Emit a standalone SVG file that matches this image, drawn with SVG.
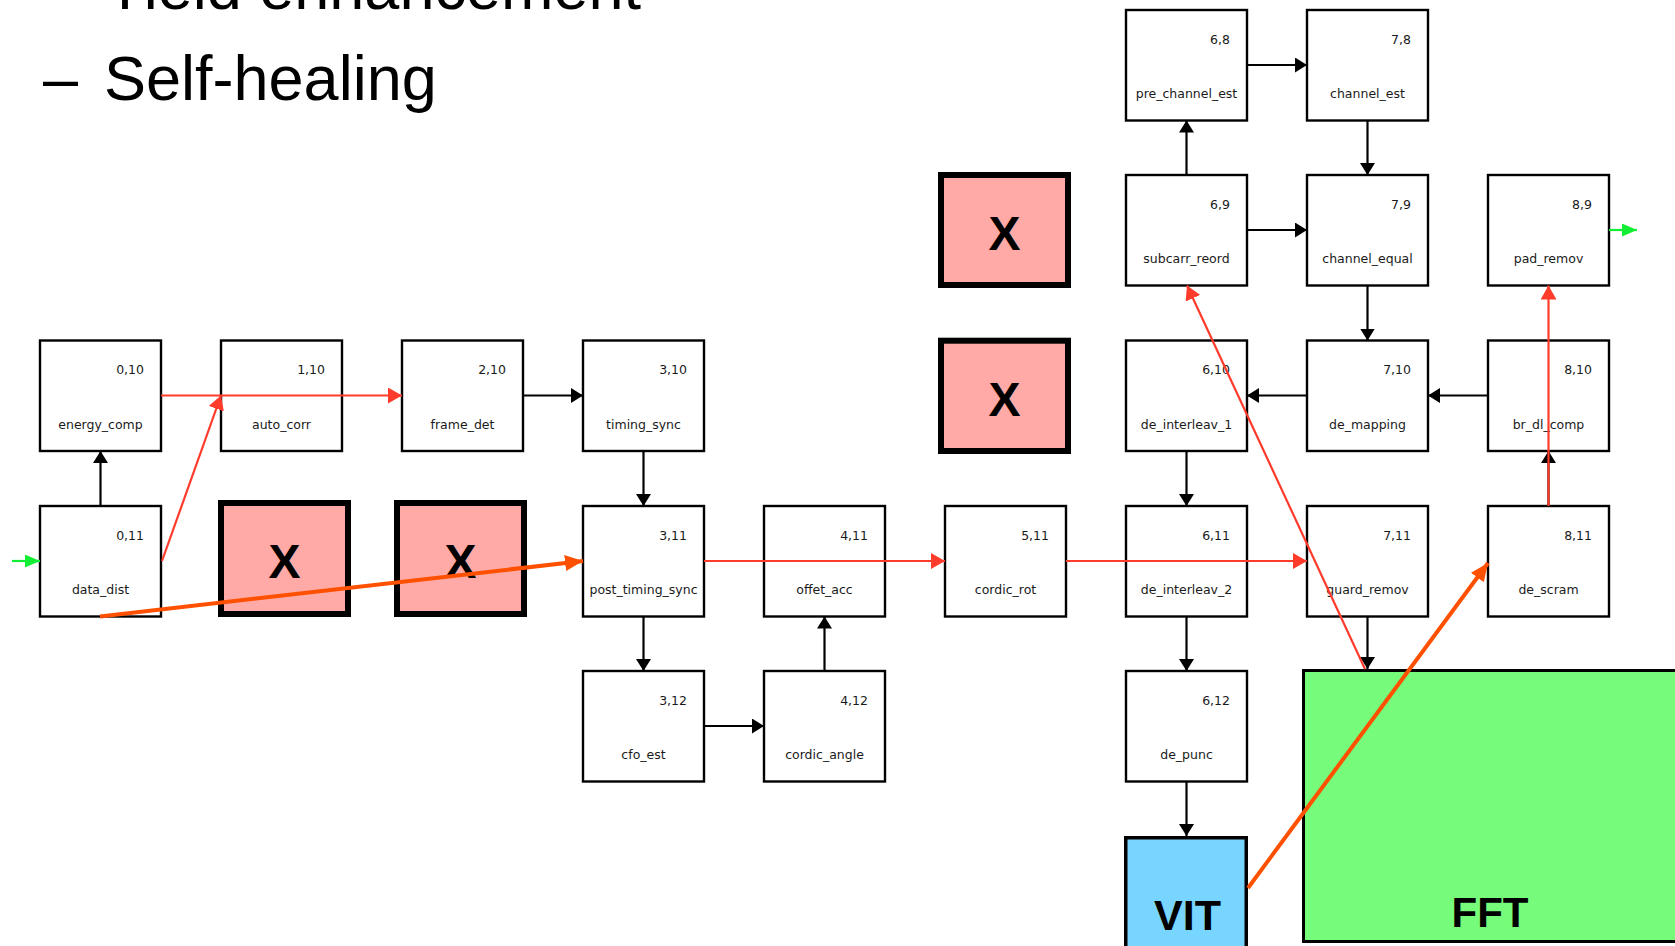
<svg xmlns="http://www.w3.org/2000/svg" width="1675" height="946" viewBox="0 0 1675 946">
<style>
.box{fill:#fff;stroke:#000;stroke-width:2.4}
.num{font-family:"DejaVu Sans",sans-serif;font-size:12.5px;fill:#1a1a1a;text-anchor:end}
.lbl{font-family:"DejaVu Sans",sans-serif;font-size:12.5px;fill:#1a1a1a;text-anchor:middle}
.xbox{fill:#ffaaa6;stroke:#000;stroke-width:6}
.big{font-family:"Liberation Sans",Arial,sans-serif;font-weight:bold;fill:#000;text-anchor:middle}
.title{font-family:"Liberation Sans",Arial,sans-serif;font-size:63px;fill:#000}
.blk{stroke:#000;stroke-width:2.2;fill:none;marker-end:url(#ab)}
.red{stroke:#ff3b2b;stroke-width:2.2;fill:none;marker-end:url(#ar)}
.org{stroke:#ff5000;stroke-width:4;fill:none;marker-end:url(#ao)}
.grn{stroke:#11ee33;stroke-width:2.2;fill:none;marker-end:url(#ag)}
</style>
<defs>
<marker id="ab" markerUnits="userSpaceOnUse" markerWidth="12" markerHeight="15" refX="12" refY="7.5" orient="auto"><path d="M0,0 L12,7.5 L0,15 z" fill="#000"/></marker>
<marker id="ar" markerUnits="userSpaceOnUse" markerWidth="14" markerHeight="16" refX="14" refY="8" orient="auto"><path d="M0,0 L14,8 L0,16 z" fill="#ff3b2b"/></marker>
<marker id="ao" markerUnits="userSpaceOnUse" markerWidth="18" markerHeight="16" refX="18" refY="8" orient="auto"><path d="M0,0 L18,8 L0,16 z" fill="#ff5000"/></marker>
<marker id="ag" markerUnits="userSpaceOnUse" markerWidth="15" markerHeight="13" refX="15" refY="6.5" orient="auto"><path d="M0,0 L15,6.5 L0,13 z" fill="#11ee33"/></marker>
</defs>
<rect width="1675" height="946" fill="#fff"/>
<g id="title">
<text class="title" x="104" y="9">Yield enhancement</text>
<text class="title" x="43" y="100">–</text>
<text class="title" x="104" y="100">Self-healing</text>
</g>
<g id="n0_10"><rect class="box" x="40" y="340.5" width="121" height="110.5"/><text class="num" x="144" y="374">0,10</text><text class="lbl" x="100.5" y="428.5">energy_comp</text></g>
<g id="n1_10"><rect class="box" x="221" y="340.5" width="121" height="110.5"/><text class="num" x="325" y="374">1,10</text><text class="lbl" x="281.5" y="428.5">auto_corr</text></g>
<g id="n2_10"><rect class="box" x="402" y="340.5" width="121" height="110.5"/><text class="num" x="506" y="374">2,10</text><text class="lbl" x="462.5" y="428.5">frame_det</text></g>
<g id="n3_10"><rect class="box" x="583" y="340.5" width="121" height="110.5"/><text class="num" x="687" y="374">3,10</text><text class="lbl" x="643.5" y="428.5">timing_sync</text></g>
<g id="n0_11"><rect class="box" x="40" y="506" width="121" height="110.5"/><text class="num" x="144" y="539.5">0,11</text><text class="lbl" x="100.5" y="594">data_dist</text></g>
<g id="n3_11"><rect class="box" x="583" y="506" width="121" height="110.5"/><text class="num" x="687" y="539.5">3,11</text><text class="lbl" x="643.5" y="594">post_timing_sync</text></g>
<g id="n4_11"><rect class="box" x="764" y="506" width="121" height="110.5"/><text class="num" x="868" y="539.5">4,11</text><text class="lbl" x="824.5" y="594">offet_acc</text></g>
<g id="n5_11"><rect class="box" x="945" y="506" width="121" height="110.5"/><text class="num" x="1049" y="539.5">5,11</text><text class="lbl" x="1005.5" y="594">cordic_rot</text></g>
<g id="n3_12"><rect class="box" x="583" y="671" width="121" height="110.5"/><text class="num" x="687" y="704.5">3,12</text><text class="lbl" x="643.5" y="759">cfo_est</text></g>
<g id="n4_12"><rect class="box" x="764" y="671" width="121" height="110.5"/><text class="num" x="868" y="704.5">4,12</text><text class="lbl" x="824.5" y="759">cordic_angle</text></g>
<g id="n6_8"><rect class="box" x="1126" y="10" width="121" height="110.5"/><text class="num" x="1230" y="43.5">6,8</text><text class="lbl" x="1186.5" y="98">pre_channel_est</text></g>
<g id="n7_8"><rect class="box" x="1307" y="10" width="121" height="110.5"/><text class="num" x="1411" y="43.5">7,8</text><text class="lbl" x="1367.5" y="98">channel_est</text></g>
<g id="n6_9"><rect class="box" x="1126" y="175" width="121" height="110.5"/><text class="num" x="1230" y="208.5">6,9</text><text class="lbl" x="1186.5" y="263">subcarr_reord</text></g>
<g id="n7_9"><rect class="box" x="1307" y="175" width="121" height="110.5"/><text class="num" x="1411" y="208.5">7,9</text><text class="lbl" x="1367.5" y="263">channel_equal</text></g>
<g id="n8_9"><rect class="box" x="1488" y="175" width="121" height="110.5"/><text class="num" x="1592" y="208.5">8,9</text><text class="lbl" x="1548.5" y="263">pad_remov</text></g>
<g id="n6_10"><rect class="box" x="1126" y="340.5" width="121" height="110.5"/><text class="num" x="1230" y="374">6,10</text><text class="lbl" x="1186.5" y="428.5">de_interleav_1</text></g>
<g id="n7_10"><rect class="box" x="1307" y="340.5" width="121" height="110.5"/><text class="num" x="1411" y="374">7,10</text><text class="lbl" x="1367.5" y="428.5">de_mapping</text></g>
<g id="n8_10"><rect class="box" x="1488" y="340.5" width="121" height="110.5"/><text class="num" x="1592" y="374">8,10</text><text class="lbl" x="1548.5" y="428.5">br_dl_comp</text></g>
<g id="n6_11"><rect class="box" x="1126" y="506" width="121" height="110.5"/><text class="num" x="1230" y="539.5">6,11</text><text class="lbl" x="1186.5" y="594">de_interleav_2</text></g>
<g id="n7_11"><rect class="box" x="1307" y="506" width="121" height="110.5"/><text class="num" x="1411" y="539.5">7,11</text><text class="lbl" x="1367.5" y="594">guard_remov</text></g>
<g id="n8_11"><rect class="box" x="1488" y="506" width="121" height="110.5"/><text class="num" x="1592" y="539.5">8,11</text><text class="lbl" x="1548.5" y="594">de_scram</text></g>
<g id="n6_12"><rect class="box" x="1126" y="671" width="121" height="110.5"/><text class="num" x="1230" y="704.5">6,12</text><text class="lbl" x="1186.5" y="759">de_punc</text></g>
<g id="x1"><rect class="xbox" x="221" y="503" width="127" height="111"/><text class="big" x="284.5" y="578" font-size="48">X</text></g>
<g id="x2"><rect class="xbox" x="397" y="503" width="127" height="111"/><text class="big" x="460.5" y="578" font-size="48">X</text></g>
<g id="x3"><rect class="xbox" x="941" y="175" width="127" height="110"/><text class="big" x="1004.5" y="250" font-size="48">X</text></g>
<g id="x4"><rect class="xbox" x="941" y="340.7" width="127" height="110.3"/><text class="big" x="1004.5" y="415.7" font-size="48">X</text></g>
<g id="vit"><rect x="1125.75" y="837.75" width="120.5" height="120" fill="#78d5ff" stroke="#000" stroke-width="3.5"/><text class="big" x="1187.5" y="930" font-size="43">VIT</text></g>
<g id="fft"><rect x="1303.5" y="670.5" width="400" height="271" fill="#77fb7a" stroke="#000" stroke-width="3"/><text class="big" x="1490" y="927" font-size="42">FFT</text></g>
<g id="connectors">
<line class="blk" x1="100.5" y1="506" x2="100.5" y2="451"/>
<line class="blk" x1="523" y1="395.5" x2="583" y2="395.5"/>
<line class="blk" x1="643.5" y1="451" x2="643.5" y2="506"/>
<line class="blk" x1="643.5" y1="616.5" x2="643.5" y2="671"/>
<line class="blk" x1="704" y1="726" x2="764" y2="726"/>
<line class="blk" x1="824.5" y1="671" x2="824.5" y2="616.5"/>
<line class="blk" x1="1247" y1="65" x2="1307" y2="65"/>
<line class="blk" x1="1367.5" y1="120.5" x2="1367.5" y2="175"/>
<line class="blk" x1="1186.5" y1="175" x2="1186.5" y2="120.5"/>
<line class="blk" x1="1247" y1="230" x2="1307" y2="230"/>
<line class="blk" x1="1367.5" y1="285.5" x2="1367.5" y2="340.5"/>
<line class="blk" x1="1307" y1="395.5" x2="1247" y2="395.5"/>
<line class="blk" x1="1488" y1="395.5" x2="1428" y2="395.5"/>
<line class="blk" x1="1186.5" y1="451" x2="1186.5" y2="506"/>
<line class="blk" x1="1186.5" y1="616.5" x2="1186.5" y2="671"/>
<line class="blk" x1="1186.5" y1="781.5" x2="1186.5" y2="836"/>
<line class="blk" x1="1367.5" y1="616.5" x2="1367.5" y2="669"/>
<line class="blk" x1="1548.5" y1="506" x2="1548.5" y2="451"/>
<line class="grn" x1="12" y1="561" x2="40" y2="561"/>
<line class="grn" x1="1609" y1="230" x2="1637" y2="230"/>
<line class="red" x1="161" y1="395.5" x2="402" y2="395.5"/>
<line class="red" x1="162" y1="561" x2="221" y2="395.5"/>
<line class="red" x1="704" y1="561" x2="945" y2="561"/>
<line class="red" x1="1066" y1="561" x2="1307" y2="561"/>
<line class="red" x1="1365" y1="669" x2="1187" y2="285.5"/>
<line class="red" x1="1548.5" y1="506" x2="1548.5" y2="285.5"/>
<line class="org" x1="100" y1="616.5" x2="583" y2="561"/>
<line class="org" x1="1248" y1="888" x2="1488" y2="563"/>
</g>
</svg>
